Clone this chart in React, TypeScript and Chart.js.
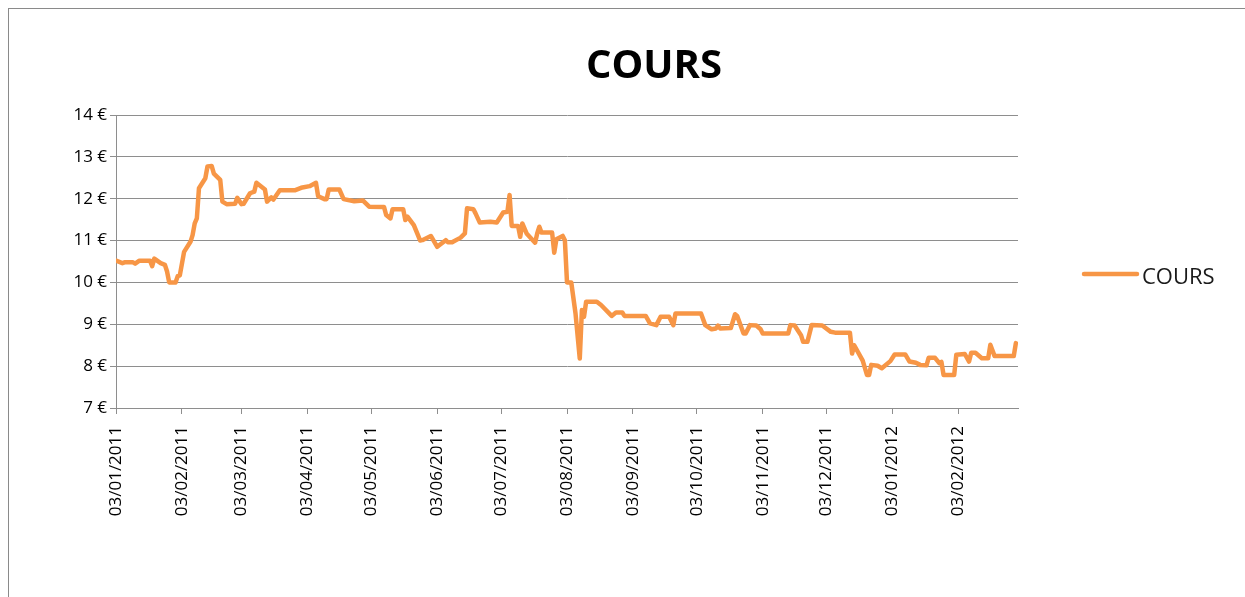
import React, { useEffect, useRef } from "react";
import { Chart, registerables } from "chart.js";

Chart.register(...registerables);

const TITLE = "COURS";
const SERIES_LABEL = "COURS";
const LINE_COLOR = "#F79646";

const dates = [
  "2011-01-03","2011-01-06","2011-01-07","2011-01-11","2011-01-12","2011-01-14","2011-01-19","2011-01-20","2011-01-21","2011-01-24",
  "2011-01-26","2011-01-27","2011-01-28","2011-01-31","2011-02-01","2011-02-02","2011-02-04","2011-02-07","2011-02-08","2011-02-09",
  "2011-02-10","2011-02-11","2011-02-14","2011-02-15","2011-02-17","2011-02-18","2011-02-21","2011-02-22","2011-02-24","2011-02-28",
  "2011-03-01","2011-03-03","2011-03-04","2011-03-07","2011-03-09","2011-03-10","2011-03-14","2011-03-15","2011-03-17","2011-03-18",
  "2011-03-21","2011-03-28","2011-03-31","2011-04-04","2011-04-07","2011-04-08","2011-04-11","2011-04-12","2011-04-13","2011-04-18",
  "2011-04-20","2011-04-25","2011-04-29","2011-05-02","2011-05-09","2011-05-10","2011-05-12","2011-05-13","2011-05-18","2011-05-19",
  "2011-05-20","2011-05-23","2011-05-26","2011-05-27","2011-05-31","2011-06-03","2011-06-07","2011-06-08","2011-06-10","2011-06-14",
  "2011-06-16","2011-06-17","2011-06-20","2011-06-21","2011-06-23","2011-06-28","2011-07-01","2011-07-04","2011-07-06","2011-07-07",
  "2011-07-08","2011-07-11","2011-07-12","2011-07-13","2011-07-15","2011-07-19","2011-07-20","2011-07-21","2011-07-22","2011-07-27",
  "2011-07-28","2011-07-29","2011-08-01","2011-08-02","2011-08-03","2011-08-05","2011-08-07","2011-08-09","2011-08-10","2011-08-11",
  "2011-08-12","2011-08-17","2011-08-19","2011-08-24","2011-08-26","2011-08-29","2011-08-30","2011-09-09","2011-09-11","2011-09-14",
  "2011-09-16","2011-09-20","2011-09-22","2011-09-23","2011-10-05","2011-10-07","2011-10-10","2011-10-12","2011-10-13","2011-10-14",
  "2011-10-19","2011-10-21","2011-10-22","2011-10-25","2011-10-26","2011-10-28","2011-10-31","2011-11-02","2011-11-03","2011-11-15",
  "2011-11-16","2011-11-18","2011-11-21","2011-11-22","2011-11-24","2011-11-26","2011-12-01","2011-12-05","2011-12-07","2011-12-14",
  "2011-12-15","2011-12-16","2011-12-20","2011-12-22","2011-12-23","2011-12-24","2011-12-27","2011-12-29","2012-01-02","2012-01-04",
  "2012-01-09","2012-01-11","2012-01-14","2012-01-16","2012-01-19","2012-01-20","2012-01-23","2012-01-25","2012-01-26","2012-01-27",
  "2012-02-01","2012-02-02","2012-02-06","2012-02-08","2012-02-09","2012-02-11","2012-02-14","2012-02-17","2012-02-18","2012-02-20",
  "2012-02-29","2012-03-01"
];

const cours = [
  10.52,10.46,10.48,10.48,10.45,10.52,10.52,10.39,10.57,10.46,
  10.42,10.26,10.0,10.0,10.15,10.17,10.73,10.97,11.13,11.41,
  11.53,12.25,12.49,12.77,12.78,12.6,12.45,11.93,11.87,11.88,
  12.02,11.87,11.88,12.13,12.17,12.38,12.22,11.93,12.03,11.98,
  12.2,12.2,12.26,12.3,12.38,12.06,11.99,11.99,12.22,12.22,
  11.99,11.94,11.96,11.81,11.8,11.61,11.53,11.75,11.75,11.49,
  11.57,11.37,11.0,11.01,11.11,10.85,11.01,10.96,10.96,11.07,
  11.17,11.77,11.75,11.65,11.43,11.45,11.43,11.67,11.69,12.09,
  11.35,11.35,11.09,11.41,11.17,10.95,11.17,11.33,11.19,11.19,
  10.71,11.03,11.11,11.01,10.0,10.0,9.26,8.18,9.34,9.18,
  9.54,9.54,9.46,9.2,9.28,9.28,9.2,9.2,9.02,8.98,
  9.18,9.18,8.98,9.26,9.26,8.98,8.88,8.9,8.97,8.9,
  8.91,9.24,9.2,8.78,8.78,8.98,8.97,8.88,8.78,8.78,
  8.98,8.97,8.74,8.58,8.58,8.98,8.97,8.82,8.8,8.8,
  8.3,8.5,8.13,7.79,7.79,8.03,8.01,7.95,8.12,8.28,
  8.28,8.11,8.08,8.03,8.02,8.2,8.2,8.07,8.1,7.79,
  7.79,8.27,8.29,8.11,8.32,8.32,8.19,8.19,8.51,8.24,
  8.24,8.55
];

const START_DATE = "2011-01-03";
const END_DATE = "2012-03-02";

const tickDates = [
  "2011-01-03","2011-02-03","2011-03-03","2011-04-03","2011-05-03","2011-06-03","2011-07-03",
  "2011-08-03","2011-09-03","2011-10-03","2011-11-03","2011-12-03","2012-01-03","2012-02-03"
];
const tickLabels = [
  "03/01/2011","03/02/2011","03/03/2011","03/04/2011","03/05/2011","03/06/2011","03/07/2011",
  "03/08/2011","03/09/2011","03/10/2011","03/11/2011","03/12/2011","03/01/2012","03/02/2012"
];

const Y_MIN = 7;
const Y_MAX = 14;
const Y_STEP = 1;

function dayOf(s: string): number {
  const [y, m, d] = s.split("-").map(Number);
  const [y0, m0, d0] = START_DATE.split("-").map(Number);
  return Math.round((Date.UTC(y, m - 1, d) - Date.UTC(y0, m0 - 1, d0)) / 86400000);
}

const FONT = '"Open Sans", "DejaVu Sans", sans-serif';
const GRID = "#8e8e8e";

export default function App() {
  const ref = useRef<HTMLCanvasElement | null>(null);

  useEffect(() => {
    if (!ref.current) return;
    const tickValues = tickDates.map(dayOf);

    const overlay = {
      id: "overlay",
      afterDraw(chart: any) {
        const ctx = chart.ctx;
        ctx.save();
        ctx.fillStyle = "#000";
        ctx.font = `bold 40px ${FONT}`;
        ctx.textAlign = "center";
        ctx.textBaseline = "alphabetic";
        ctx.fillText(TITLE, 645, 69);
        // legend
        ctx.strokeStyle = LINE_COLOR;
        ctx.lineWidth = 4.5;
        ctx.lineCap = "round";
        ctx.beginPath();
        ctx.moveTo(1075, 265);
        ctx.lineTo(1128, 265);
        ctx.stroke();
        ctx.fillStyle = "#1a1a1a";
        ctx.font = `22px ${FONT}`;
        ctx.textAlign = "left";
        ctx.fillText(chart.data.datasets[0].label, 1133, 275);
        ctx.restore();
      },
    };

    const chart = new Chart(ref.current, {
      type: "line",
      data: {
        datasets: [
          {
            label: SERIES_LABEL,
            data: dates.map((d, i) => ({ x: dayOf(d), y: cours[i] })),
            borderColor: LINE_COLOR,
            backgroundColor: LINE_COLOR,
            borderWidth: 4.5,
            pointRadius: 0,
            tension: 0,
            borderJoinStyle: "round",
            borderCapStyle: "round",
          },
        ],
      },
      options: {
        animation: false,
        responsive: false,
        layout: { padding: { top: 106, right: 219, left: 0, bottom: 0 } },
        plugins: {
          legend: { display: false },
          title: { display: false },
          tooltip: { enabled: false },
        },
        scales: {
          x: {
            type: "linear",
            min: 0,
            max: dayOf(END_DATE),
            afterBuildTicks: (scale: any) => {
              scale.ticks = tickValues.map((v) => ({ value: v }));
            },
            afterFit: (scale: any) => {
              scale.height = 180;
            },
            ticks: {
              autoSkip: false,
              maxRotation: 90,
              minRotation: 90,
              padding: 12,
              color: "#000",
              font: { family: FONT, size: 17 },
              callback: (v: any) => {
                const i = tickValues.indexOf(Number(v));
                return i >= 0 ? tickLabels[i] : "";
              },
            },
            grid: {
              display: true,
              drawOnChartArea: false,
              drawTicks: true,
              tickLength: 6,
              color: GRID,
              lineWidth: 1,
            },
            border: { display: true, color: GRID, width: 1 },
          },
          y: {
            min: Y_MIN,
            max: Y_MAX,
            afterFit: (scale: any) => {
              scale.width = 107;
            },
            ticks: {
              stepSize: Y_STEP,
              padding: 3,
              color: "#000",
              font: { family: FONT, size: 17 },
              callback: (v: any) => `${v} €`,
            },
            grid: {
              display: true,
              drawOnChartArea: true,
              drawTicks: true,
              tickLength: 6,
              color: GRID,
              lineWidth: 1,
            },
            border: { display: true, color: GRID, width: 1 },
          },
        },
      },
      plugins: [overlay],
    } as any);

    return () => chart.destroy();
  }, []);

  return (
    <div
      style={{
        position: "fixed",
        left: 8,
        top: 8,
        width: 1240,
        height: 592,
        borderLeft: "1px solid #8a8a8a",
        borderTop: "1px solid #8a8a8a",
        overflow: "hidden",
        background: "#fff",
      }}
    >
      <canvas ref={ref} width={1228} height={579} style={{ display: "block", width: 1228, height: 579 }} />
    </div>
  );
}
